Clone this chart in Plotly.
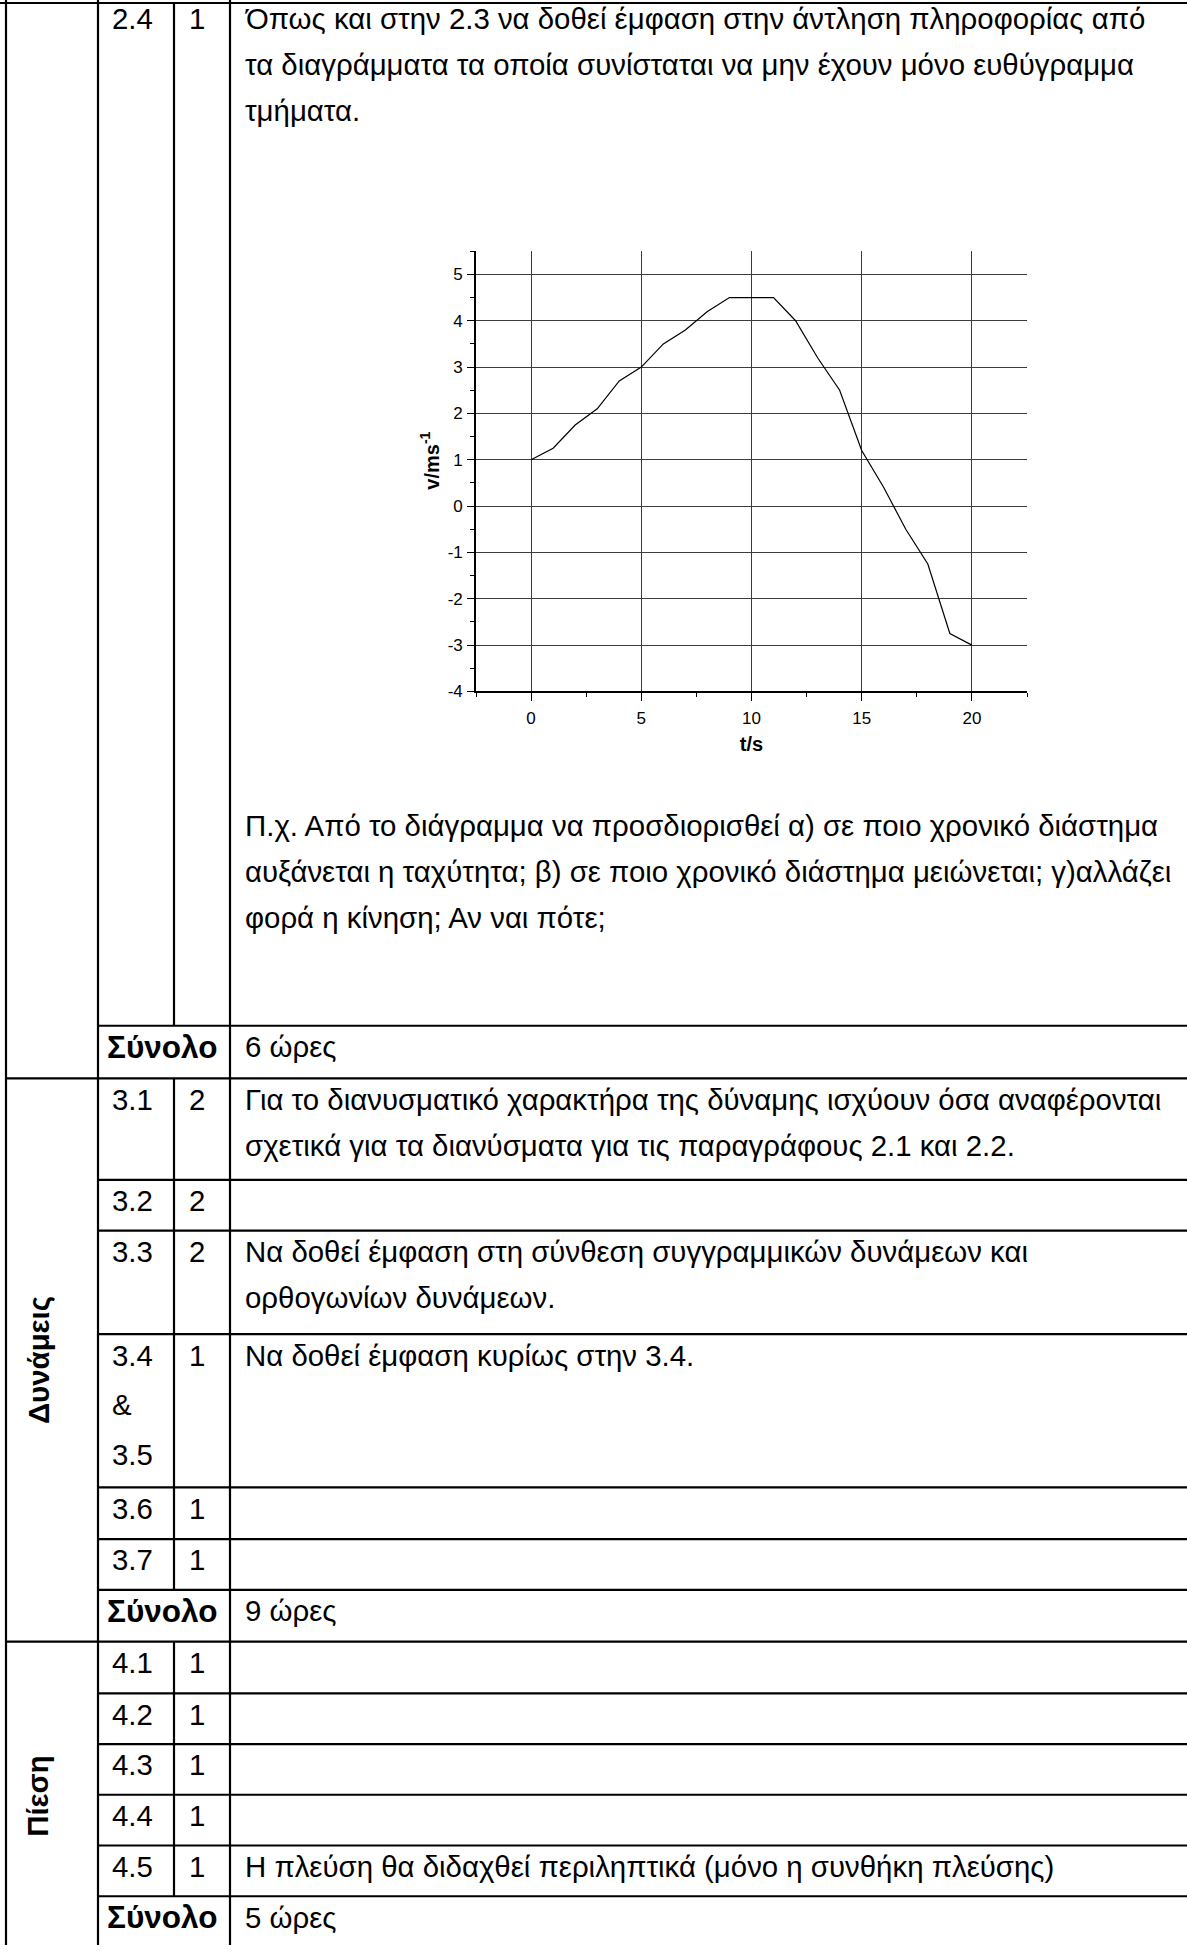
import plotly.graph_objects as go

# ---------------- data ----------------
t_s = list(range(21))
v_ms = [1.0, 1.25, 1.75, 2.1, 2.7, 3.0, 3.5, 3.8, 4.2, 4.5, 4.5,
        4.5, 4.0, 3.2, 2.5, 1.2, 0.4, -0.5, -1.25, -2.75, -3.0]
x_tick_vals = [0, 5, 10, 15, 20]
x_tick_text = ["0", "5", "10", "15", "20"]
y_tick_vals = [-4, -3, -2, -1, 0, 1, 2, 3, 4, 5]
y_tick_text = ["-4", "-3", "-2", "-1", "0", "1", "2", "3", "4", "5"]
x_title = "<b>t/s</b>"
y_title = "<b>v/ms<sup>-1</sup></b>"

section_names = ["Δυνάμεις", "Πίεση"]
row_codes = ["2.4", "Σύνολο", "3.1", "3.2", "3.3", ["3.4", "&", "3.5"], "3.6", "3.7",
             "Σύνολο", "4.1", "4.2", "4.3", "4.4", "4.5", "Σύνολο"]
row_hours = ["1", "", "2", "2", "2", "1", "1", "1", "", "1", "1", "1", "1", "1", ""]
row_texts = [
    ["Όπως και στην 2.3 να δοθεί έμφαση στην άντληση πληροφορίας από",
     "τα διαγράμματα τα οποία συνίσταται να μην έχουν μόνο ευθύγραμμα",
     "τμήματα."],
    ["6 ώρες"],
    ["Για το διανυσματικό χαρακτήρα της δύναμης ισχύουν όσα αναφέρονται",
     "σχετικά για τα διανύσματα για τις παραγράφους 2.1 και 2.2."],
    [],
    ["Να δοθεί έμφαση στη σύνθεση συγγραμμικών δυνάμεων και",
     "ορθογωνίων δυνάμεων."],
    ["Να δοθεί έμφαση κυρίως στην 3.4."],
    [],
    [],
    ["9 ώρες"],
    [], [], [], [],
    ["Η πλεύση θα διδαχθεί περιληπτικά (μόνο η συνθήκη πλεύσης)"],
    ["5 ώρες"],
]
example_lines = [
    "Π.χ. Από το διάγραμμα να προσδιορισθεί α) σε ποιο χρονικό διάστημα",
    "αυξάνεται η ταχύτητα; β) σε ποιο χρονικό διάστημα μειώνεται; γ)αλλάζει",
    "φορά η κίνηση; Αν ναι πότε;",
]

# ---------------- layout constants (pixels) ----------------
W, H = 1187, 1955
FONT = "Liberation Sans, Arial, sans-serif"
TXT = 29.4
BOLD_TOTAL = 31.5
row_bounds = [3, 1031, 1084, 1186, 1237, 1341, 1495, 1547, 1598, 1650,
              1702, 1753, 1804, 1855, 1906, 1960]
section_rows = [(2, 9), (9, 15)]
total_rows = [1, 8, 14]
col_x = [6, 98, 174, 230]
LINE0 = 21
TOP_LINE0 = 16
CODE_PITCH = 50
TEXT_PITCH = 46
example_first = 830
plot_x = (476, 1027)
plot_y = (252.5, 695)
y_title_pos = (430, 463)


def px(x):
    return x / W


def py(y):
    return 1 - y / H


fig = go.Figure()
fig.add_trace(go.Scatter(x=t_s, y=v_ms, mode="lines",
                         line=dict(color="black", width=1.2),
                         showlegend=False, hoverinfo="skip"))

shapes = []
LW = 2.2
full_idx = {0, 2, 9}
for i, y in enumerate(row_bounds[:-1]):
    x0 = col_x[0] if i in full_idx else col_x[1]
    if i == 0:
        x0 = 0
    shapes.append(dict(type="line", xref="paper", yref="paper",
                       x0=px(x0), x1=1, y0=py(y), y1=py(y),
                       line=dict(color="black", width=LW)))
for x in [col_x[0], col_x[1], col_x[3]]:
    shapes.append(dict(type="line", xref="paper", yref="paper",
                       x0=px(x), x1=px(x), y0=py(0), y1=py(H),
                       line=dict(color="black", width=LW)))
for i in range(len(row_codes)):
    if i in total_rows:
        continue
    shapes.append(dict(type="line", xref="paper", yref="paper",
                       x0=px(col_x[2]), x1=px(col_x[2]),
                       y0=py(row_bounds[i]), y1=py(row_bounds[i + 1]),
                       line=dict(color="black", width=LW)))

annotations = []


def txt(x, y, s, bold=False, anchor="left", angle=0, size=TXT):
    annotations.append(dict(xref="paper", yref="paper", x=px(x), y=py(y),
                            text=f"<b>{s}</b>" if bold else s,
                            showarrow=False, xanchor=anchor, yanchor="middle",
                            textangle=angle,
                            font=dict(family=FONT, size=size, color="black")))


for i, code in enumerate(row_codes):
    top = row_bounds[i]
    first = top + (TOP_LINE0 if i == 0 else LINE0)
    if i in total_rows:
        txt((col_x[1] + col_x[3]) / 2 - 2, first, code, bold=True,
            anchor="center", size=BOLD_TOTAL)
    else:
        codes = code if isinstance(code, list) else [code]
        for k, c in enumerate(codes):
            txt(col_x[1] + 12, first + CODE_PITCH * k, c)
        txt(col_x[2] + 13, first, row_hours[i])
    for k, line in enumerate(row_texts[i]):
        txt(col_x[3] + 13, first + TEXT_PITCH * k, line)

for k, line in enumerate(example_lines):
    txt(col_x[3] + 13, example_first + TEXT_PITCH * k, line)

for name, (a, b) in zip(section_names, section_rows):
    txt(38, (row_bounds[a] + row_bounds[b]) / 2, name,
        bold=True, anchor="center", angle=-90)

# y axis title (placed as a rotated label beside the axis)
txt(y_title_pos[0], y_title_pos[1], y_title, anchor="center", angle=-90, size=20)

grid_col = "#3c3c3c"
fig.update_layout(
    width=W, height=H, margin=dict(l=0, r=0, t=0, b=0),
    paper_bgcolor="white", plot_bgcolor="white",
    shapes=shapes, annotations=annotations,
    font=dict(family=FONT, color="black"),
    xaxis=dict(domain=[px(plot_x[0]), px(plot_x[1])], range=[-2.5, 22.5],
               tickvals=x_tick_vals, ticktext=x_tick_text,
               ticks="outside", ticklen=8, tickwidth=1.2,
               tickcolor="black", showline=True, linecolor="black", linewidth=1.6,
               showgrid=True, gridcolor=grid_col, gridwidth=1, zeroline=False,
               tickfont=dict(size=17), ticklabelstandoff=2,
               minor=dict(dtick=2.5, tick0=-2.5, ticks="outside", ticklen=4,
                          tickcolor="black", showgrid=False),
               title=dict(text=x_title, font=dict(size=20), standoff=10),
               fixedrange=True),
    yaxis=dict(domain=[py(plot_y[1]), py(plot_y[0])], range=[-4, 5.5],
               tickvals=y_tick_vals, ticktext=y_tick_text,
               ticks="outside", ticklen=7, tickwidth=1.2,
               tickcolor="black", showline=True, linecolor="black", linewidth=1.6,
               showgrid=True, gridcolor=grid_col, gridwidth=1, zeroline=False,
               tickfont=dict(size=17), ticklabelstandoff=1,
               minor=dict(dtick=0.5, tick0=0.5, ticks="outside", ticklen=4,
                          tickcolor="black", showgrid=False),
               fixedrange=True),
)

fig.write_html("out.html", config={"displayModeBar": False},
               post_script="document.body.style.margin='0';")
